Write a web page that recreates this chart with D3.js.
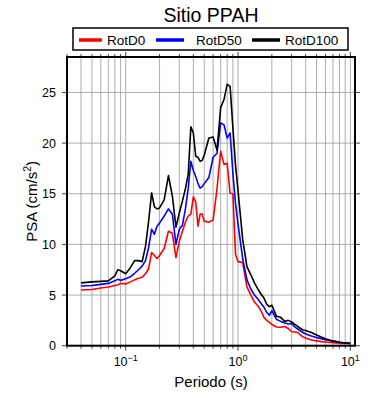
<!DOCTYPE html>
<html lang="es">
<head>
  <meta charset="UTF-8">
  <title>Sitio PPAH</title>
  <script src="https://cdn.jsdelivr.net/npm/d3@7"></script>
  <style>
    body { margin: 0; background: #fff; }
    text { font-family: "Liberation Sans", Arial, sans-serif; fill: #000; }
  </style>
</head>
<body>
  <div id="grafica"></div>

  <script>
    // periodos (s) y espectros PSA (cm/s2)
    periodos = [0.04, 0.05, 0.06, 0.07, 0.08, 0.085, 0.09, 0.1, 0.11, 0.12, 0.13, 0.14, 0.15, 0.16, 0.17, 0.18, 0.19, 0.2,
      0.22, 0.24, 0.26, 0.28, 0.3, 0.32, 0.34, 0.36, 0.38, 0.4, 0.42, 0.44, 0.46, 0.48, 0.5, 0.55, 0.6, 0.65, 0.7, 0.75,
      0.8, 0.85, 0.9, 0.95, 1.0, 1.1, 1.2, 1.3, 1.4, 1.5, 1.6, 1.7, 1.8, 1.9, 2.0, 2.2, 2.4, 2.6, 2.8, 3.0, 3.2, 3.4,
      3.6, 3.8, 4.0, 4.5, 5.0, 5.5, 6.0, 6.5, 7.0, 7.5, 8.0, 8.5, 9.0, 9.5, 10]

    rotD0 = [5.5, 5.55, 5.7, 5.8, 5.95, 6.0, 6.15, 6.1, 6.3, 6.5, 6.65, 6.75, 7.1, 7.6, 9.2, 8.9, 8.6, 8.9,
      9.6, 11.3, 11.1, 8.7, 10.3, 11.3, 12.2, 12.8, 13.0, 14.7, 14.2, 11.8, 13.0, 13.0, 12.3, 12.2, 12.4, 15.5, 19.2, 17.9,
      18.0, 15.05, 15.0, 9.0, 8.3, 8.2, 5.8, 5.0, 4.3, 3.95, 3.45, 2.8, 2.5, 2.3, 2.1, 1.85, 1.82, 1.9, 1.7, 1.38, 1.35, 1.3,
      1.05, 0.85, 0.75, 0.56, 0.48, 0.4, 0.36, 0.32, 0.3, 0.27, 0.25, 0.23, 0.22, 0.21, 0.2]

    rotD50 = [5.9, 5.95, 6.05, 6.15, 6.4, 6.55, 6.45, 6.6, 6.8, 7.15, 7.5, 7.85, 8.4, 9.7, 11.5, 11.0, 11.8, 12.1,
      12.8, 13.5, 13.0, 10.0, 11.5, 11.9, 13.5, 15.5, 18.2, 17.3, 16.7, 16.0, 15.55, 15.7, 16.0, 16.6, 18.6, 19.0, 22.0, 21.8,
      20.5, 21.0, 17.0, 14.0, 12.0, 8.6, 6.5, 5.6, 5.0, 4.6, 4.2, 3.8, 3.3, 3.0, 3.45, 2.6, 2.4, 2.25, 2.15, 2.2, 1.85, 1.65,
      1.45, 1.3, 1.15, 0.95, 0.8, 0.7, 0.6, 0.52, 0.45, 0.4, 0.34, 0.3, 0.27, 0.25, 0.22]

    rotD100 = [6.2, 6.3, 6.35, 6.4, 6.9, 7.5, 7.4, 7.1, 7.7, 8.4, 8.4, 8.3, 9.8, 12.3, 15.1, 13.7, 13.5, 13.6,
      14.4, 16.8, 14.8, 11.7, 13.1, 14.3, 15.5, 16.9, 21.6, 21.0, 18.7, 18.6, 18.2, 18.3, 18.8, 20.5, 20.6, 19.3, 23.5, 24.3,
      25.8, 25.6, 21.5, 17.8, 15.3, 10.5, 7.8, 7.0, 6.2, 5.6, 5.1, 4.7, 4.1, 3.85, 4.0, 2.9, 2.8, 2.4, 2.5, 2.35, 2.1, 1.9,
      1.7, 1.55, 1.5, 1.3, 1.06, 0.85, 0.68, 0.55, 0.47, 0.4, 0.34, 0.3, 0.27, 0.25, 0.23]

    series = ['RotD0', 'RotD50', 'RotD100']
    colores = ['#ff0000', '#0000ff', '#000000']
    yTicks = [0, 5, 10, 15, 20, 25]
    xDecadas = [0.1, 1, 10]
    xExpon = ['\u22121', '0', '1']

    ancho = 390
    alto = 400
    margen = { top: 57, right: 35, bottom: 54.3, left: 67 }

    svg = d3.select('#grafica')
      .append('svg')
      .attr('width', ancho)
      .attr('height', alto)

    x = d3.scaleLog()
      .domain([0.03, 11])
      .range([margen.left, ancho - margen.right])
    y = d3.scaleLinear()
      .domain([0, 28.5])
      .range([alto - margen.bottom, margen.top])

    x0 = x.range()[0], x1 = x.range()[1]
    y0 = y.range()[0], y1 = y.range()[1]

    // rejilla
    grid = svg.append('g').attr('stroke', '#999').attr('stroke-width', 0.8)
    grid.selectAll('.gx')
      .data(x.ticks().filter(d => d > 0.031))
      .enter().append('line')
      .attr('x1', d => x(d)).attr('x2', d => x(d))
      .attr('y1', y0).attr('y2', y1)
    grid.selectAll('.gy')
      .data(yTicks.filter(d => d > 0))
      .enter().append('line')
      .attr('x1', x0).attr('x2', x1)
      .attr('y1', d => y(d)).attr('y2', d => y(d))

    // marcas exteriores
    marcas = svg.append('g').attr('stroke', '#444').attr('stroke-width', 1)
    xt = x.ticks()
    marcas.selectAll('.tb')
      .data(xt).enter().append('line')
      .attr('x1', d => x(d)).attr('x2', d => x(d))
      .attr('y1', y0).attr('y2', d => y0 + (xDecadas.includes(d) ? 5 : 3))
    marcas.selectAll('.tt')
      .data(xt).enter().append('line')
      .attr('x1', d => x(d)).attr('x2', d => x(d))
      .attr('y1', y1).attr('y2', d => y1 - (xDecadas.includes(d) ? 5 : 3))
    marcas.selectAll('.tl')
      .data(yTicks).enter().append('line')
      .attr('x1', x0 - 5).attr('x2', x0)
      .attr('y1', d => y(d)).attr('y2', d => y(d))
    marcas.selectAll('.tr')
      .data(yTicks).enter().append('line')
      .attr('x1', x1).attr('x2', x1 + 5)
      .attr('y1', d => y(d)).attr('y2', d => y(d))

    // curvas
    linea = d3.line()
      .x((d, i) => x(periodos[i]))
      .y(d => y(d))
    datos = [rotD0, rotD50, rotD100]
    svg.append('g').selectAll('path')
      .data(datos)
      .enter().append('path')
      .attr('d', linea)
      .attr('fill', 'none')
      .attr('stroke', (d, i) => colores[i])
      .attr('stroke-width', 1.6)
      .attr('stroke-linejoin', 'round')

    // marco
    svg.append('rect')
      .attr('x', x0).attr('y', y1)
      .attr('width', x1 - x0).attr('height', y0 - y1)
      .attr('fill', 'none').attr('stroke', '#000').attr('stroke-width', 2)

    // etiquetas eje y
    svg.selectAll('.ly')
      .data(yTicks).enter().append('text')
      .attr('x', x0 - 11)
      .attr('y', d => y(d) + 4.5)
      .attr('text-anchor', 'end')
      .attr('font-size', 12.5)
      .text(d => d)

    // etiquetas eje x (10^n)
    lx = svg.selectAll('.lx')
      .data(xDecadas).enter().append('text')
      .attr('x', d => x(d))
      .attr('y', y0 + 20)
      .attr('text-anchor', 'middle')
      .attr('font-size', 12.5)
    lx.append('tspan').text('10')
    lx.append('tspan')
      .attr('dy', -5)
      .attr('font-size', 9)
      .text((d, i) => xExpon[i])

    svg.append('text')
      .attr('x', (x0 + x1) / 2)
      .attr('y', 387)
      .attr('text-anchor', 'middle')
      .attr('font-size', 15)
      .text('Periodo (s)')

    ylab = svg.append('text')
      .attr('transform', 'translate(37,' + ((y0 + y1) / 2) + ') rotate(-90)')
      .attr('text-anchor', 'middle')
      .attr('font-size', 15)
    ylab.append('tspan').text('PSA (cm/s')
    ylab.append('tspan').attr('dy', -6).attr('font-size', 10.5).text('2')
    ylab.append('tspan').attr('dy', 6).text(')')

    // titulo
    svg.append('text')
      .attr('x', (x0 + x1) / 2)
      .attr('y', 22)
      .attr('text-anchor', 'middle')
      .attr('font-size', 19.5)
      .text('Sitio PPAH')

    // leyenda
    svg.append('rect')
      .attr('x', 73).attr('y', 28)
      .attr('width', 275).attr('height', 22)
      .attr('fill', '#fff').attr('stroke', '#000').attr('stroke-width', 1.5)
    posLeyenda = [79, 156, 252]
    ley = svg.selectAll('.ley')
      .data(series).enter().append('g')
      .attr('transform', (d, i) => 'translate(' + posLeyenda[i] + ',0)')
    ley.append('line')
      .attr('x1', 0).attr('x2', (d, i) => i == 0 ? 23 : 28)
      .attr('y1', 40).attr('y2', 40)
      .attr('stroke', (d, i) => colores[i])
      .attr('stroke-width', 3.5)
    ley.append('text')
      .attr('x', (d, i) => i == 0 ? 28 : i == 1 ? 40 : 33)
      .attr('y', 44.5)
      .attr('font-size', 13.5)
      .text(d => d)
  </script>
</body>
</html>
